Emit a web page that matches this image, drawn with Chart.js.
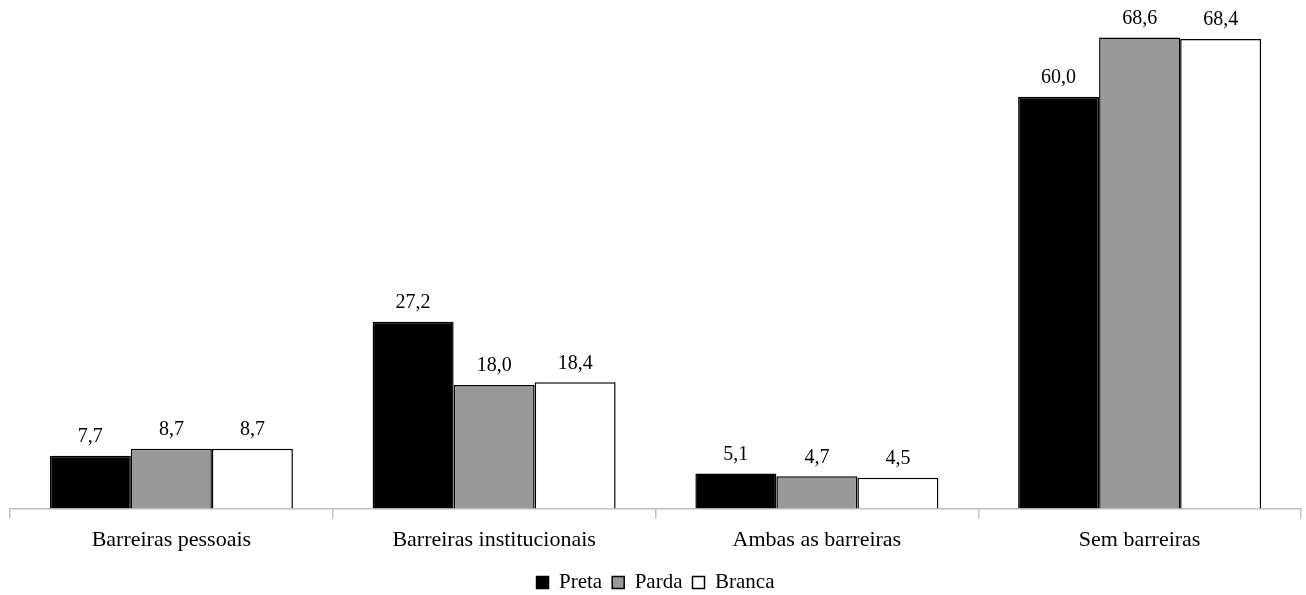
<!DOCTYPE html>
<html>
<head>
<meta charset="utf-8">
<script src="https://cdn.jsdelivr.net/npm/chart.js@4"></script>
<style>
  body { margin: 0; background: #fff; }
  #chart { display: block; }
</style>
</head>
<body>
<canvas id="chart" width="1306" height="595"></canvas>
<script>
const categories = ['Barreiras pessoais', 'Barreiras institucionais', 'Ambas as barreiras', 'Sem barreiras'];
const seriesNames = ['Preta', 'Parda', 'Branca'];
const preta = [7.7, 27.2, 5.1, 60.0];
const parda = [8.7, 18.0, 4.7, 68.6];
const branca = [8.7, 18.4, 4.5, 68.4];

const serif = "'Liberation Serif', 'Times New Roman', serif";

// draws the value over each bar, with a decimal comma
const valueLabels = {
    id: 'valueLabels',
    afterDatasetsDraw(chart) {
        const ctx = chart.ctx;
        ctx.save();
        ctx.font = '20px ' + serif;
        ctx.fillStyle = '#000';
        ctx.textAlign = 'center';
        ctx.textBaseline = 'middle';
        chart.data.datasets.forEach((ds, i) => {
            chart.getDatasetMeta(i).data.forEach((bar, j) => {
                ctx.fillText(ds.data[j].toFixed(1).replace('.', ','), bar.x, bar.y - 19);
            });
        });
        ctx.restore();
    }
};

// legend sits closer to the bottom edge than chart.js puts it
const legendShift = {
    id: 'legendShift',
    beforeInit(chart) {
        const fit = chart.legend.fit;
        chart.legend.fit = function () {
            fit.call(this);
            this.height -= 8;
        };
    }
};

new Chart(document.getElementById('chart').getContext('2d'), {
    type: 'bar',
    data: {
        labels: categories,
        datasets: [
            { label: seriesNames[0], data: preta, backgroundColor: '#000000', borderColor: '#000', borderWidth: 1.5 },
            { label: seriesNames[1], data: parda, backgroundColor: '#999999', borderColor: '#000', borderWidth: 1.5 },
            { label: seriesNames[2], data: branca, backgroundColor: '#ffffff', borderColor: '#000', borderWidth: 1.5 }
        ]
    },
    options: {
        responsive: false,
        animation: false,
        categoryPercentage: 0.753,
        barPercentage: 1,
        layout: { padding: { left: 10, right: 5, top: 28, bottom: 0 } },
        scales: {
            y: { display: false, min: 0, max: 70 },
            x: {
                grid: { offset: true, drawOnChartArea: false, color: '#bfbfbf', tickLength: 10, lineWidth: 1.5 },
                border: { color: '#bfbfbf', width: 1.5 },
                ticks: { color: '#000', font: { family: serif, size: 22 }, padding: 8 },
                afterFit(scale) { scale.height += 1; }
            }
        },
        plugins: {
            legend: {
                position: 'bottom',
                labels: {
                    color: '#000',
                    font: { family: serif, size: 21 },
                    boxWidth: 12,
                    boxHeight: 12,
                    padding: 10
                }
            },
            tooltip: { enabled: false }
        }
    },
    plugins: [valueLabels, legendShift]
});
</script>
</body>
</html>
